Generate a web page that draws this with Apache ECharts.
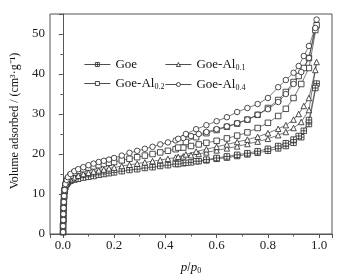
<!DOCTYPE html>
<html>
<head>
<meta charset="utf-8">
<script src="https://cdn.jsdelivr.net/npm/echarts@6/dist/echarts.min.js"></script>
<style>
  html, body { margin: 0; padding: 0; background: #fff; }
  #chart { width: 349px; height: 280px; }
</style>
</head>
<body>
<div id="chart"></div>
<script>
// relative pressure points (shared by all samples)
const adsP = [0.001, 0.001, 0.002, 0.002, 0.003, 0.004, 0.005, 0.007, 0.01, 0.015, 0.02, 0.03, 0.045, 0.06, 0.08,
  0.1, 0.12, 0.14, 0.16, 0.18, 0.2, 0.23, 0.26, 0.29, 0.32, 0.35, 0.38, 0.41, 0.44, 0.47,
  0.5, 0.53, 0.56, 0.6, 0.64, 0.68, 0.72, 0.76, 0.8, 0.84, 0.87, 0.9, 0.93, 0.96, 0.99]
const desP = [0.985, 0.96, 0.94, 0.92, 0.9, 0.87, 0.84, 0.8, 0.76, 0.72, 0.68, 0.64, 0.6, 0.56, 0.52, 0.48, 0.45]

// adsorption / desorption branches, cm3/g
const goeAds = [0.5, 2, 3.5, 5, 6.5, 8, 9.5, 10.8, 11.8, 12.5, 12.9, 13.3, 13.6, 13.8, 14.1,
  14.3, 14.5, 14.8, 15, 15.2, 15.4, 15.7, 16, 16.2, 16.5, 16.7, 17, 17.2, 17.5, 17.7,
  17.9, 18.2, 18.4, 18.8, 19.1, 19.5, 19.9, 20.3, 20.8, 21.4, 22, 22.8, 24.2, 27.5, 37.6]
const goeDes = [36.5, 28.5, 25.8, 24.5, 23.6, 22.7, 22, 21.3, 20.7, 20.2, 19.8, 19.4, 19, 18.6, 18.2, 17.8, 17.5]

const al01Ads = [0.5, 2, 3.5, 5, 6.5, 8, 9.5, 10.8, 11.8, 12.6, 13.1, 13.7, 14.2, 14.6, 15,
  15.3, 15.6, 15.9, 16.1, 16.4, 16.6, 17, 17.3, 17.6, 17.9, 18.2, 18.5, 18.8, 19.1, 19.4,
  19.7, 20, 20.4, 20.9, 21.4, 21.9, 22.5, 23.1, 23.8, 24.7, 25.5, 26.5, 28, 31, 43]
const al01Des = [41, 34, 32, 30, 28.6, 27.2, 26.3, 25.2, 24.3, 23.6, 23, 22.4, 21.8, 21.2, 20.6, 19.9, 19.3]

const al02Ads = [0.5, 2, 3.5, 5, 6.5, 8, 9.5, 11, 12.3, 13.2, 13.8, 14.6, 15.3, 15.8, 16.2,
  16.6, 16.9, 17.2, 17.5, 17.8, 18, 18.4, 18.8, 19.2, 19.6, 20, 20.4, 20.8, 21.2, 21.6,
  22, 22.4, 22.8, 23.3, 23.9, 24.6, 25.4, 26.5, 27.8, 29.5, 31.3, 34, 37.5, 41.5, 52.2]
const al02Des = [51, 44, 41.5, 39.5, 38, 35.5, 33.5, 31.5, 29.8, 28.6, 27.6, 26.8, 26, 25.2, 24.2, 23, 21.6]

const al04Ads = [0.5, 2, 3.5, 5, 6.5, 8, 9.5, 11, 12.5, 13.5, 14.2, 15, 15.7, 16.2, 16.7,
  17.2, 17.6, 18, 18.3, 18.6, 19, 19.6, 20.3, 20.8, 21.3, 21.8, 22.4, 22.9, 23.4, 24,
  24.5, 25, 25.5, 26.2, 26.9, 27.7, 28.6, 29.8, 31.2, 33, 35, 37.5, 40.5, 44, 53.6]
const al04Des = [51.5, 47, 44.5, 42, 40.3, 38.5, 36.7, 34, 32.5, 31.5, 30.5, 29.2, 28.2, 27.2, 26.2, 25, 23.8]

const names = ['Goe', 'Goe-Al0.1', 'Goe-Al0.2', 'Goe-Al0.4']
const xTicks = ['0.0', '0.2', '0.4', '0.6', '0.8', '1.0']

const font = 'Liberation Serif'
const crossSquare = 'path://M0,0H10V10H0ZM5,0V10M0,5H10'

function loop(ads, des) {
  const pts = adsP.map((p, i) => [p, ads[i]])
  return pts.concat(desP.map((p, i) => [p, des[i]]))
}

function mkSeries(name, ads, des, symbol) {
  return {
    name: name,
    type: 'line',
    data: loop(ads, des),
    symbol: symbol,
    symbolSize: 5.5,
    showAllSymbol: true,
    lineStyle: { color: '#222', width: 0.6 },
    itemStyle: { color: '#fff', borderColor: '#222', borderWidth: 0.8 },
    emphasis: { disabled: true },
    animation: false
  }
}

function legendName(name) {
  const m = name.match(/^(Goe-Al)(.+)$/)
  if (!m) return '{b|' + name + '}'
  return '{b|' + m[1] + '}{s|' + m[2] + '}'
}

const legendText = {
  fontFamily: font,
  color: '#111',
  rich: {
    b: { fontFamily: font, fontSize: 13, color: '#111' },
    s: { fontFamily: font, fontSize: 8, color: '#111', padding: [7, 0, 0, 0] }
  }
}

const legendBase = {
  orient: 'vertical',
  top: 53,
  itemWidth: 26, itemHeight: 5, itemGap: 6,
  formatter: legendName,
  textStyle: legendText,
  lineStyle: { width: 0.8, color: '#222' },
  itemStyle: { borderWidth: 0.8 }
}

const chart = echarts.init(document.getElementById('chart'))
chart.setOption({
  animation: false,
  grid: {
    left: 50, right: 17, top: 14, bottom: 40,
    show: true, borderColor: '#555', borderWidth: 1
  },
  legend: [
    Object.assign({ data: [names[0], names[2]], left: 79 }, legendBase),
    Object.assign({ data: [names[1], names[3]], left: 160 }, legendBase)
  ],
  xAxis: {
    type: 'value',
    min: -0.05, max: 1.05,
    splitNumber: 5,
    name: '{i|p}/{i|p}{s|0}',
    nameLocation: 'middle',
    nameGap: 26,
    nameTextStyle: {
      rich: {
        i: { fontFamily: font, fontStyle: 'italic', fontSize: 13, color: '#111' },
        s: { fontFamily: font, fontSize: 8, color: '#111', padding: [7, 0, 0, 0] }
      }
    },
    axisLine: { lineStyle: { color: '#555' } },
    axisTick: { length: 4, lineStyle: { color: '#555' } },
    minorTick: { show: true, splitNumber: 2, length: 2.5, lineStyle: { color: '#555' } },
    splitLine: { show: false },
    axisLabel: {
      fontFamily: font, fontSize: 13, color: '#222', margin: 5,
      showMinLabel: false, showMaxLabel: false,
      formatter: v => {
        const s = v.toFixed(1)
        return xTicks.includes(s) && Math.abs(v * 10 - Math.round(v * 10)) < 1e-6 ? s : ''
      }
    }
  },
  yAxis: {
    type: 'value',
    min: 0, max: 55, interval: 10,
    name: 'Volume adsorbed / (cm³·g⁻¹)',
    nameLocation: 'middle',
    nameGap: 27,
    nameTextStyle: { fontFamily: font, fontSize: 12, color: '#111', padding: [0, 0, 0, 6] },
    axisLine: { show: true, lineStyle: { color: '#555' } },
    axisTick: { show: true, length: 4, lineStyle: { color: '#555' } },
    minorTick: { show: true, splitNumber: 2, length: 2.5, lineStyle: { color: '#555' } },
    splitLine: { show: false },
    axisLabel: {
      fontFamily: font, fontSize: 13, color: '#222', margin: 5,
      formatter: v => (v % 10 === 0 ? String(v) : '')
    }
  },
  series: [
    mkSeries(names[0], goeAds, goeDes, crossSquare),
    mkSeries(names[1], al01Ads, al01Des, 'triangle'),
    mkSeries(names[2], al02Ads, al02Des, 'rect'),
    mkSeries(names[3], al04Ads, al04Des, 'circle')
  ]
})
</script>
</body>
</html>
